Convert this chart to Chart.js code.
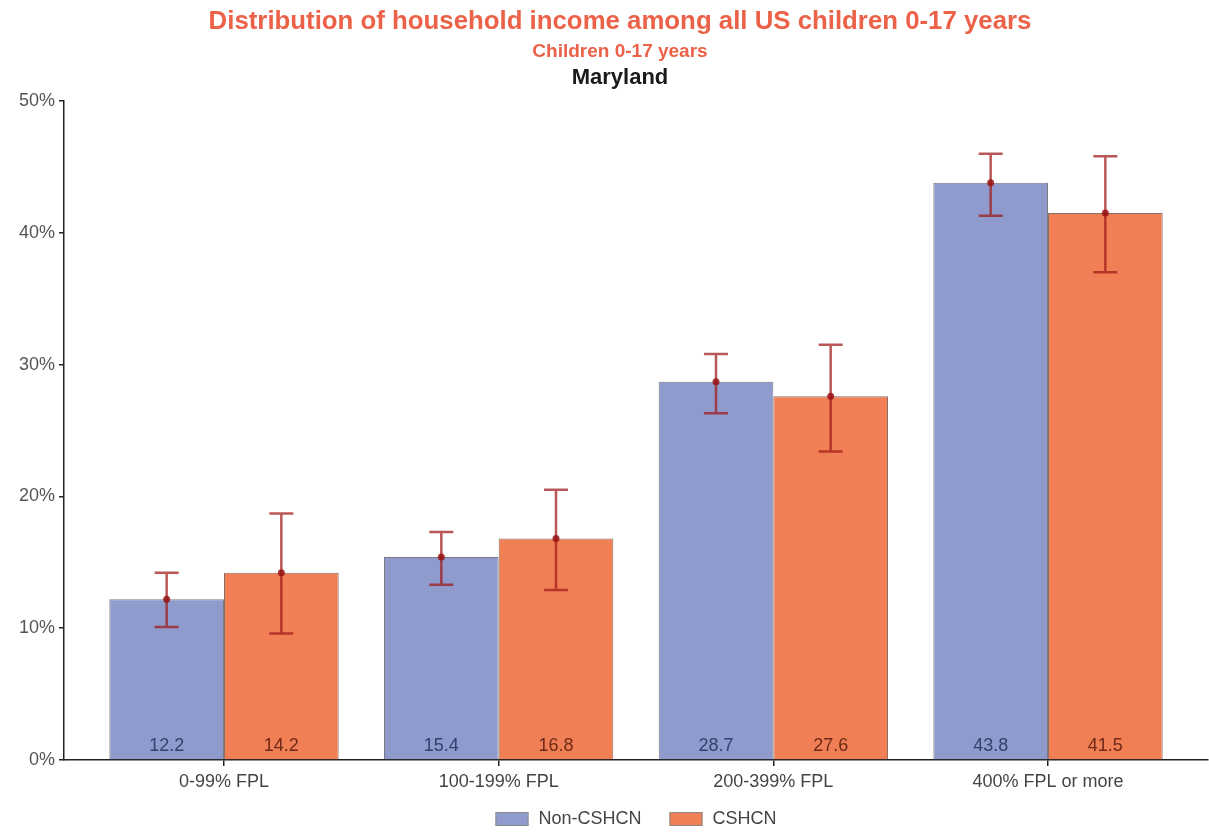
<!DOCTYPE html>
<html>
<head>
<meta charset="utf-8">
<title>Household income distribution – Maryland</title>
<script src="https://cdn.jsdelivr.net/npm/chart.js@4/dist/chart.umd.min.js"></script>
<style>
  html, body { margin: 0; padding: 0; background: #ffffff; }
  #wrap { position: relative; width: 1209px; height: 835px; }
</style>
</head>
<body>
<div id="wrap"><canvas id="chart"></canvas></div>
<script>
// Income groups (share of children, %)
const categories = ['0-99% FPL', '100-199% FPL', '200-399% FPL', '400% FPL or more'];
const seriesNames = ['Non-CSHCN', 'CSHCN'];

const nonCshcn = [12.2, 15.4, 28.7, 43.8];
const nonCshcnLow = [10.1, 13.3, 26.3, 41.3];
const nonCshcnHigh = [14.2, 17.3, 30.8, 46.0];

const cshcn = [14.2, 16.8, 27.6, 41.5];
const cshcnLow = [9.6, 12.9, 23.4, 37.0];
const cshcnHigh = [18.7, 20.5, 31.5, 45.8];

const yTicks = [0, 10, 20, 30, 40, 50];

const FONT = '"Liberation Sans", Arial, sans-serif';

const titleLines = [
  { text: 'Distribution of household income among all US children 0-17 years', font: 'bold 25.8px ' + FONT, color: '#ec6248', y: 22 },
  { text: 'Children 0-17 years', font: 'bold 19px ' + FONT, color: '#ec6248', y: 52 },
  { text: 'Maryland', font: 'bold 22px ' + FONT, color: '#1a1a1a', y: 78 }
];

const seriesColors = ['#8f9bcc', '#f17f55'];
const seriesBorders = ['#7a7a86', '#8a7068'];
const valueLabelColors = ['#34406e', '#6e2a17'];

const ranges = [
  { low: nonCshcnLow, high: nonCshcnHigh },
  { low: cshcnLow, high: cshcnHigh }
];

// Headings above the plot
const headingPlugin = {
  id: 'headings',
  afterDraw(chart) {
    const ctx = chart.ctx;
    ctx.save();
    ctx.textAlign = 'center';
    ctx.textBaseline = 'middle';
    titleLines.forEach(t => {
      ctx.font = t.font;
      ctx.fillStyle = t.color;
      ctx.fillText(t.text, 620, t.y);
    });
    ctx.restore();
  }
};

// Series key below the axis, centred on the plot area
const keyPlugin = {
  id: 'seriesKey',
  afterDraw(chart) {
    const ctx = chart.ctx;
    const area = chart.chartArea;
    const boxW = 33, boxH = 14, gapText = 10, gapItem = 28, yMid = 819;
    ctx.save();
    ctx.font = '18px ' + FONT;
    ctx.textBaseline = 'middle';
    ctx.textAlign = 'left';
    const widths = chart.data.datasets.map(ds => boxW + gapText + ctx.measureText(ds.label).width);
    const total = widths.reduce((a, b) => a + b, 0) + gapItem * (widths.length - 1);
    let x = (area.left + area.right) / 2 - total / 2;
    chart.data.datasets.forEach((ds, i) => {
      ctx.fillStyle = ds.backgroundColor;
      ctx.fillRect(x, yMid - boxH / 2, boxW, boxH);
      ctx.strokeStyle = '#8a8a8a';
      ctx.lineWidth = 1;
      ctx.strokeRect(x + 0.5, yMid - boxH / 2 + 0.5, boxW - 1, boxH - 1);
      ctx.fillStyle = '#444444';
      ctx.fillText(ds.label, x + boxW + gapText, yMid);
      x += widths[i] + gapItem;
    });
    ctx.restore();
  }
};

// Confidence intervals and value labels on each bar
const intervalPlugin = {
  id: 'intervals',
  afterDatasetsDraw(chart) {
    const ctx = chart.ctx;
    const y = chart.scales.y;
    ctx.save();
    chart.data.datasets.forEach((ds, di) => {
      const meta = chart.getDatasetMeta(di);
      meta.data.forEach((bar, i) => {
        const x = bar.x;
        ctx.font = '18px ' + FONT;
        ctx.fillStyle = valueLabelColors[di];
        ctx.textAlign = 'center';
        ctx.textBaseline = 'middle';
        ctx.fillText(ds.data[i].y.toFixed(1), x, y.getPixelForValue(0) - 14);

        const yLo = y.getPixelForValue(ranges[di].low[i]);
        const yHi = y.getPixelForValue(ranges[di].high[i]);
        const yMid = y.getPixelForValue(ds.data[i].y);
        ctx.strokeStyle = 'rgba(160, 24, 24, 0.72)';
        ctx.lineWidth = 2.5;
        ctx.beginPath();
        ctx.moveTo(x, yLo); ctx.lineTo(x, yHi);
        ctx.moveTo(x - 12, yLo); ctx.lineTo(x + 12, yLo);
        ctx.moveTo(x - 12, yHi); ctx.lineTo(x + 12, yHi);
        ctx.stroke();
        ctx.fillStyle = 'rgba(150, 20, 20, 0.85)';
        ctx.beginPath();
        ctx.arc(x, yMid, 3.5, 0, Math.PI * 2);
        ctx.fill();
      });
    });
    ctx.restore();
  }
};

const toPoints = arr => arr.map((v, i) => ({ x: i, y: v }));

new Chart(document.getElementById('chart'), {
  type: 'bar',
  data: {
    datasets: [
      {
        label: seriesNames[0],
        data: toPoints(nonCshcn),
        backgroundColor: seriesColors[0],
        borderColor: seriesBorders[0],
        borderWidth: 1
      },
      {
        label: seriesNames[1],
        data: toPoints(cshcn),
        backgroundColor: seriesColors[1],
        borderColor: seriesBorders[1],
        borderWidth: 1
      }
    ]
  },
  options: {
    responsive: true,
    maintainAspectRatio: false,
    animation: false,
    categoryPercentage: 0.835,
    barPercentage: 1.0,
    layout: { padding: { top: 101, right: 1, left: 0, bottom: 0 } },
    plugins: {
      title: { display: false },
      tooltip: { enabled: false },
      legend: { display: false }
    },
    scales: {
      x: {
        type: 'linear',
        offset: false,
        min: -0.5825,
        max: 3.5825,
        afterBuildTicks(scale) {
          scale.ticks = categories.map((c, i) => ({ value: i }));
        },
        afterFit(scale) { scale.height = 75; },
        ticks: {
          autoSkip: false,
          maxRotation: 0,
          padding: 5,
          color: '#444444',
          font: { family: FONT, size: 18 },
          callback: value => categories[value]
        },
        grid: {
          display: true,
          offset: false,
          drawOnChartArea: false,
          drawTicks: true,
          tickLength: 6,
          color: '#222222',
          lineWidth: 1.5
        },
        border: { display: true, color: '#222222', width: 1.5 }
      },
      y: {
        min: 0,
        max: 50,
        afterBuildTicks(scale) {
          scale.ticks = yTicks.map(v => ({ value: v }));
        },
        afterFit(scale) { scale.width = 64; },
        ticks: {
          padding: 4,
          color: '#555555',
          font: { family: FONT, size: 18 },
          callback: value => value + '%'
        },
        grid: {
          display: true,
          drawOnChartArea: false,
          drawTicks: true,
          tickLength: 5,
          color: '#222222',
          lineWidth: 1.5
        },
        border: { display: true, color: '#222222', width: 1.5 }
      }
    }
  },
  plugins: [headingPlugin, intervalPlugin, keyPlugin]
});
</script>
</body>
</html>
